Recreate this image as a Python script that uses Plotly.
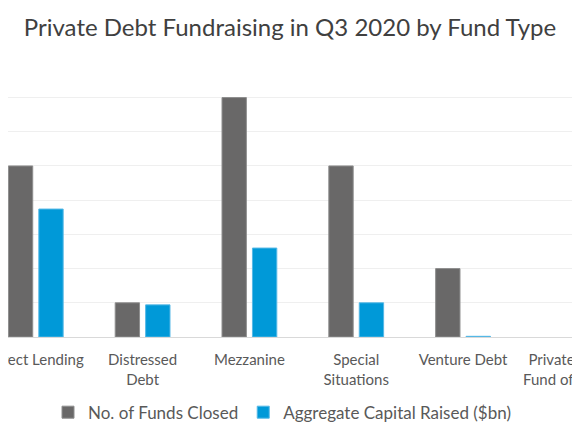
import plotly.graph_objects as go

fund_types = [
    "Direct Lending",
    "Distressed<br>Debt",
    "Mezzanine",
    "Special<br>Situations",
    "Venture Debt",
    "Private Debt<br>Fund of Funds",
]
funds_closed = [5, 1, 7, 5, 2, 0]
capital_raised = [3.74, 0.94, 2.6, 1.0, 0.02, 0]

GREY = "#696868"
BLUE = "#0099d8"

# page has an 8px body margin, so the figure is sized to the visible area
W, H = 572, 427

# no outline on empty bars
edge = [1 if v > 0 else 0 for v in funds_closed]

fig = go.Figure()
fig.add_trace(
    go.Bar(
        x=fund_types,
        y=funds_closed,
        name="No. of Funds Closed",
        marker=dict(color=GREY, line=dict(color="#8e8e8e", width=edge)),
    )
)
fig.add_trace(
    go.Bar(
        x=fund_types,
        y=capital_raised,
        name="Aggregate Capital Raised ($bn)",
        marker=dict(
            color=BLUE,
            line=dict(color="#55b8e6", width=[1 if v > 0 else 0 for v in capital_raised]),
        ),
    )
)

fig.update_layout(
    width=W,
    height=H,
    margin=dict(l=0, r=0, t=55, b=98),
    paper_bgcolor="white",
    plot_bgcolor="white",
    font=dict(family="Lato", size=15, color="#595959"),
    title=dict(
        text="Private Debt Fundraising in Q3 2020 by Fund Type",
        x=282 / W,
        xanchor="center",
        y=1 - 20 / H,
        yanchor="middle",
        yref="container",
        font=dict(family="Lato", size=24, color="#404040"),
    ),
    barmode="group",
    bargap=0.43,
    bargroupgap=0.2,
    showlegend=True,
    legend=dict(
        orientation="h",
        x=40 / W,
        xanchor="left",
        y=-0.276,
        yanchor="middle",
        font=dict(size=17, color="#595959"),
    ),
)
# categories run off both sides of the page, like the cropped original
fig.update_xaxes(
    range=[-0.26, 5.095],
    showline=True,
    linecolor="#d9d9d9",
    linewidth=1,
    ticks="",
    ticklabelstandoff=9,
    automargin=False,
    tickangle=0,
    showgrid=False,
)
fig.update_yaxes(
    range=[0, 8.01],
    dtick=1,
    showgrid=True,
    gridcolor="#efefef",
    gridwidth=1,
    showticklabels=False,
    zeroline=False,
    automargin=False,
)

fig.write_html("out.html")
